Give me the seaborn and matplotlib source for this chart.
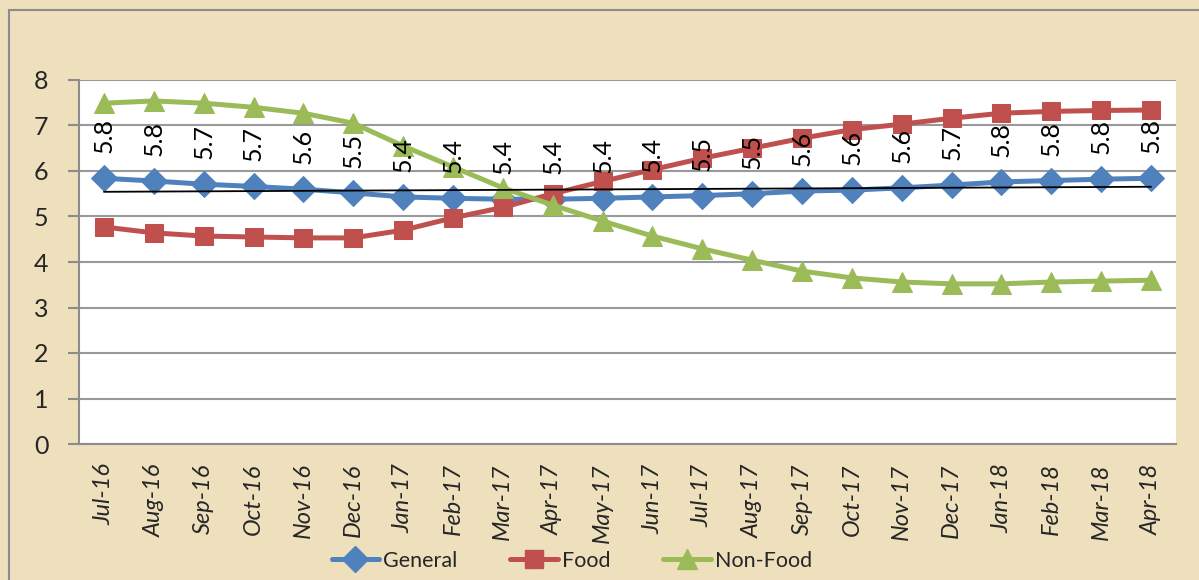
import numpy as np
import pandas as pd
import matplotlib
matplotlib.use('Agg')
import matplotlib.pyplot as plt
import seaborn as sns
from matplotlib.patches import Rectangle
from matplotlib.lines import Line2D

months = ['Jul-16', 'Aug-16', 'Sep-16', 'Oct-16', 'Nov-16', 'Dec-16',
          'Jan-17', 'Feb-17', 'Mar-17', 'Apr-17', 'May-17', 'Jun-17',
          'Jul-17', 'Aug-17', 'Sep-17', 'Oct-17', 'Nov-17', 'Dec-17',
          'Jan-18', 'Feb-18', 'Mar-18', 'Apr-18']
general = [5.84, 5.78, 5.71, 5.66, 5.60, 5.52, 5.43, 5.40, 5.38, 5.38, 5.40,
           5.43, 5.46, 5.50, 5.56, 5.58, 5.63, 5.69, 5.76, 5.79, 5.82, 5.84]
food = [4.77, 4.64, 4.57, 4.55, 4.53, 4.53, 4.70, 4.97, 5.20, 5.50, 5.77,
        6.03, 6.28, 6.50, 6.72, 6.91, 7.03, 7.16, 7.27, 7.31, 7.33, 7.34]
non_food = [7.49, 7.54, 7.49, 7.40, 7.27, 7.05, 6.55, 6.09, 5.63, 5.25, 4.90,
            4.57, 4.29, 4.04, 3.80, 3.65, 3.56, 3.52, 3.52, 3.56, 3.58, 3.60]

df = pd.DataFrame({'pos': np.arange(len(months)), 'month': months,
                   'General': general, 'Food': food, 'Non-Food': non_food})

sns.set_theme(style='white')
plt.rcParams['font.family'] = ['Lato', 'DejaVu Sans']

bg = '#EEDFBD'
fig = plt.figure(figsize=(11.99, 5.80), dpi=100, facecolor=bg)
ax = fig.add_axes([79 / 1199, 1 - 444 / 580, (1176 - 79) / 1199, (444 - 80) / 580])
ax.set_facecolor('white')

# outer chart border
fig.patches.append(Rectangle((9 / 1199, -0.05), 1.2, 1.05 - 10 / 580, transform=fig.transFigure,
                             fill=False, edgecolor='#8C8C8C', linewidth=1.5, zorder=0))

styles = [('General', '#4F81BD', 'D', 13), ('Food', '#C0504D', 's', 13), ('Non-Food', '#9BBB59', '^', 14)]
for name, color, marker, ms in styles:
    sns.lineplot(data=df, x='pos', y=name, ax=ax, color=color, linewidth=3.6,
                 marker=marker, markersize=ms, markeredgecolor=color, legend=False, zorder=3)

# linear trend of General
coef = np.polyfit(df['pos'], df['General'], 1)
ax.plot(df['pos'], np.polyval(coef, df['pos']), color='black', linewidth=1.3, zorder=4)

# rotated data labels for General
for p, v in zip(df['pos'], df['General']):
    ax.annotate(f'{v:.1f}', (p, v), xytext=(0, 18), textcoords='offset points',
                rotation=90, ha='center', va='bottom', fontsize=18, color='black', zorder=5)

ax.set_xlim(-0.5, len(months) - 0.5)
ax.set_ylim(0, 8)
ax.set_yticks(range(0, 9))
ax.set_yticklabels([str(i) for i in range(0, 9)], fontsize=18)
ax.set_xticks(df['pos'])
ax.set_xticklabels(months, rotation=90, fontsize=17, fontstyle='italic')
ax.set_xticks(np.arange(-0.5, len(months), 1), minor=True)
ax.tick_params(axis='x', which='major', length=0, pad=14)
ax.tick_params(axis='x', which='minor', length=7, width=1.5, color='#8C8C8C', direction='out')
ax.tick_params(axis='y', length=8, width=1.5, color='#8C8C8C', direction='out', pad=14, left=True)
ax.set_xlabel('')
ax.set_ylabel('')
ax.grid(axis='y', color='#999999', linewidth=1.5, zorder=0)
ax.set_axisbelow(True)
for side in ['top', 'right']:
    ax.spines[side].set_visible(False)
for side in ['left', 'bottom']:
    ax.spines[side].set_color('#8C8C8C')
    ax.spines[side].set_linewidth(1.5)

handles = [Line2D([], [], color=c, marker=m, markersize=ms, linewidth=3.6, markeredgecolor=c)
           for _, c, m, ms in styles]
fig.legend(handles, [s[0] for s in styles], loc='center', bbox_to_anchor=(572 / 1199, 1 - 561 / 580),
           ncol=3, frameon=False, fontsize=15.5, handlelength=2.2, handletextpad=0.2, columnspacing=2.45)

fig.savefig('out.png', dpi=100, facecolor=bg)
